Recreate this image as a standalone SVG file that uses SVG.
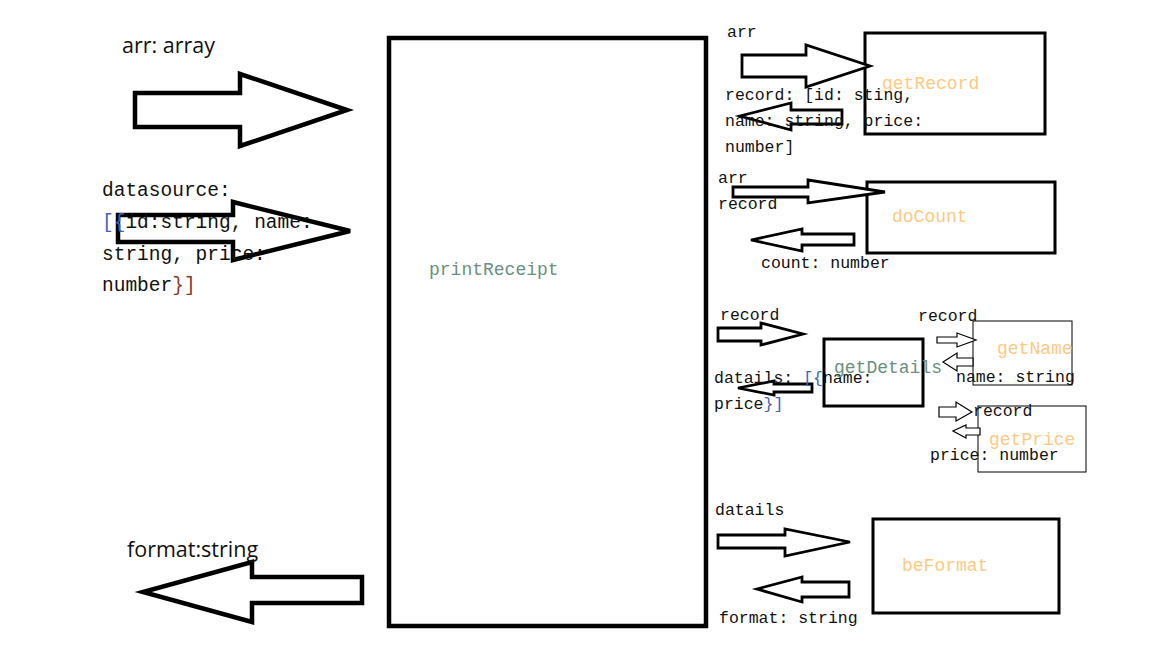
<svg xmlns="http://www.w3.org/2000/svg" width="1152" height="648" viewBox="0 0 1152 648">
<style>
.box{fill:none;stroke:#000}
.big{fill:#fff;stroke:#000;stroke-width:4.5;stroke-linejoin:miter}
.mid{fill:#fff;stroke:#000;stroke-width:2.8}
.thin{fill:#fff;stroke:#000;stroke-width:1.2}
.sans{font-family:"Open Sans","Liberation Sans",sans-serif;font-size:21.5px;fill:#111}
.mono{font-family:"Liberation Mono","DejaVu Sans Mono",monospace;font-size:16.5px;fill:#111}
.monoL{font-family:"Liberation Mono","DejaVu Sans Mono",monospace;font-size:19.5px;fill:#111}
.lab{font-family:"Liberation Mono","DejaVu Sans Mono",monospace;font-size:18px;fill:#FFC983}
.lab2{font-family:"Liberation Mono","DejaVu Sans Mono",monospace;font-size:18px;fill:#6a8f80}
.blue{fill:#3f63b8}
.brn{fill:#8a3a2a}
</style>
<rect width="1152" height="648" fill="#fff"/>
<g id="printReceipt">
<rect class="box" x="389" y="38" width="317" height="588" stroke-width="4.5"/>
<text class="lab2" x="429" y="275">printReceipt</text>
</g>
<g id="getRecord">
<rect class="box" x="865" y="33" width="180" height="101" stroke-width="3"/>
<text class="lab" x="882" y="89">getRecord</text>
</g>
<g id="doCount">
<rect class="box" x="867" y="182" width="188" height="71" stroke-width="3"/>
<text class="lab" x="892" y="222">doCount</text>
</g>
<g id="getDetails">
<rect class="box" x="824" y="339" width="99" height="67" stroke-width="3"/>
</g>
<g id="getName">
<rect class="box" x="973" y="321" width="99" height="64" stroke-width="1"/>
<text class="lab" x="997" y="354">getName</text>
</g>
<g id="getPrice">
<rect class="box" x="978" y="406" width="108" height="66" stroke-width="1"/>
<text class="lab" x="989" y="445">getPrice</text>
</g>
<g id="beFormat">
<rect class="box" x="873" y="519" width="186" height="94" stroke-width="3"/>
<text class="lab" x="902" y="571">beFormat</text>
</g>
<g id="connectors">
<polygon class="big" points="135,93 240,93 240,74 347,110 240,146 240,127 135,127"/>
<polygon class="big" points="118,215 233,215 233,202 350,231 233,260 233,242 118,242"/>
<polygon class="big" points="362,577 252,577 252,562 143,592 252,622 252,603 362,603"/>
<polygon class="mid" points="742,55 806,55 806,45 870,66 806,87 806,77 742,77"/>
<polygon class="mid" points="842,110 791,110 791,103 740,116 791,130 791,124 842,124"/>
<polygon class="mid" points="733,187 808,187 808,180 885,192 808,203 808,197 733,197"/>
<polygon class="mid" points="854,234 802,234 802,229 751,240 802,251 802,245 854,245"/>
<polygon class="mid" points="718,328 761,328 761,323 803,334 761,345 761,341 718,341"/>
<polygon class="mid" points="812,384 774,384 774,381 738,388 774,395 774,392 812,392"/>
<polygon class="thin" points="937,337 957,337 957,333 976,340 957,347 957,343 937,343"/>
<polygon class="thin" points="973,358 957,358 957,353 943,362 957,371 957,366 973,366"/>
<polygon class="thin" points="939,407 956,407 956,402 972,412 956,421 956,417 939,417"/>
<polygon class="thin" points="980,428 966,428 966,425 953,431 966,438 966,435 980,435"/>
<polygon class="mid" points="718,535 785,535 785,529 850,542 785,556 785,548 718,548"/>
<polygon class="mid" points="849,582 802,582 802,577 757,589 802,602 802,597 849,597"/>
</g>
<g id="labels">
<text class="sans" x="122" y="53">arr: array</text>
<text class="monoL" x="102" y="196">datasource:</text>
<text class="monoL" x="102" y="228"><tspan class="blue">[{</tspan>id:string, name:</text>
<text class="monoL" x="102" y="260">string, price:</text>
<text class="monoL" x="102" y="291">number<tspan class="brn">}]</tspan></text>
<text class="sans" x="127" y="557">format:string</text>
<text class="mono" x="727" y="37">arr</text>
<text class="mono" x="725" y="100">record: [id: sting,</text>
<text class="mono" x="725" y="126">name: string, price:</text>
<text class="mono" x="725" y="152">number]</text>
<text class="mono" x="718" y="183">arr</text>
<text class="mono" x="718" y="209">record</text>
<text class="mono" x="761" y="268">count: number</text>
<text class="mono" x="720" y="320">record</text>
<text class="mono" x="714" y="383">datails: <tspan class="blue">[{</tspan>name:</text>
<text class="mono" x="714" y="409">price<tspan class="blue">}]</tspan></text>
<text class="lab2" x="834" y="373">getDetails</text>
<text class="mono" x="918" y="321">record</text>
<text class="mono" x="956" y="382">name: string</text>
<text class="mono" x="973" y="416">record</text>
<text class="mono" x="930" y="460">price: number</text>
<text class="mono" x="715" y="515">datails</text>
<text class="mono" x="719" y="623">format: string</text>
</g>
</svg>
